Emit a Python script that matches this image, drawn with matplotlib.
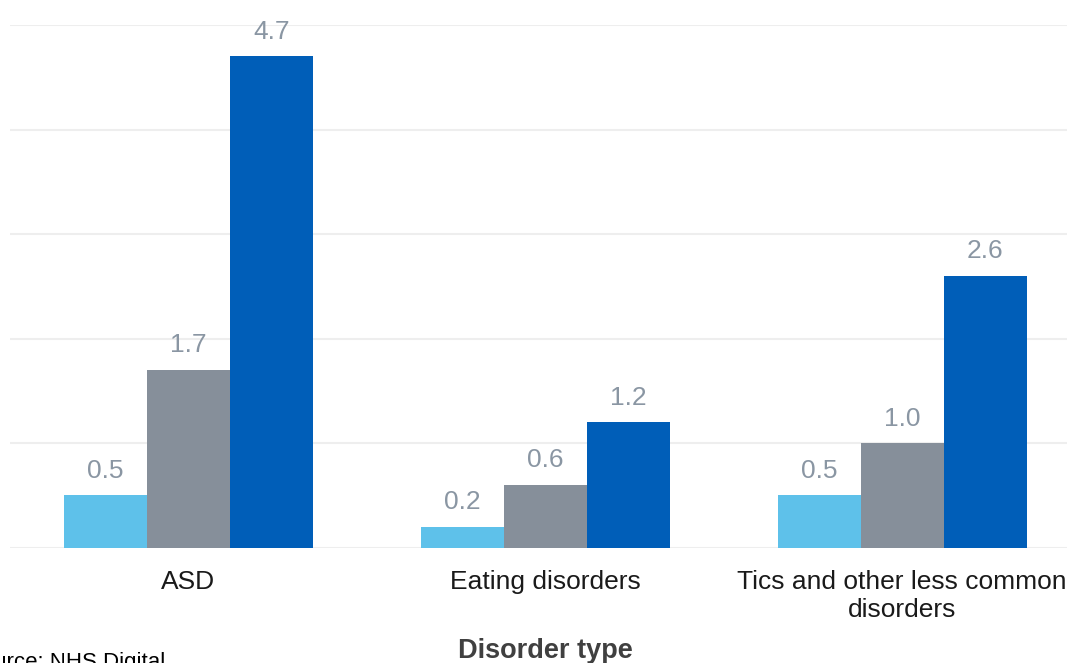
import numpy as np
import matplotlib.pyplot as plt

plt.rcParams['font.family'] = ['Liberation Sans', 'DejaVu Sans']

# Data
categories = ['ASD', 'Eating disorders', 'Tics and other less common\ndisorders']
series_1 = [0.5, 0.2, 0.5]
series_2 = [1.7, 0.6, 1.0]
series_3 = [4.7, 1.2, 2.6]

colors = ['#5EC1EA', '#868F9A', '#005EB8']
label_color = '#8A96A3'

W, H = 1067, 663
fig = plt.figure(figsize=(W / 100, H / 100), dpi=100)
# axes spans a little past the right edge of the canvas
ax = fig.add_axes([10 / W, (H - 547.5) / H, 1070.5 / W, 522.5 / H])

x = np.arange(len(categories))
width = 0.2325
for j, (vals, c) in enumerate(zip([series_1, series_2, series_3], colors)):
    pos = x + (j - 1) * width
    bars = ax.bar(pos, vals, width=width, color=c, zorder=2)
    for b, v in zip(bars, vals):
        ax.annotate(f'{v:.1f}', (b.get_x() + b.get_width() / 2, v),
                    xytext=(0, 12.5), textcoords='offset points',
                    ha='center', va='baseline', fontsize=19, color=label_color)

ax.set_xlim(-0.5, 2.5)
ax.set_ylim(0, 5)
ax.set_yticks(np.arange(0, 6, 1))
ax.yaxis.grid(True, color='#EEEEEE', linewidth=1.5, zorder=0)
ax.set_axisbelow(True)
ax.tick_params(axis='y', left=False, labelleft=False)
ax.tick_params(axis='x', length=0, pad=16, labelsize=19, labelcolor='#1A1A1A')
ax.set_xticks(x)
ax.set_xticklabels(categories, linespacing=1.22)
for s in ax.spines.values():
    s.set_visible(False)

# axis title and source line
fig.text(545 / W, (H - 658) / H, 'Disorder type', fontsize=19.5, fontweight='bold',
         color='#404040', ha='center', va='baseline')
fig.text(-33 / W, -5 / H, 'Source: NHS Digital', fontsize=16, color='#000000',
         ha='left', va='baseline')

fig.savefig('out.png', dpi=100)
